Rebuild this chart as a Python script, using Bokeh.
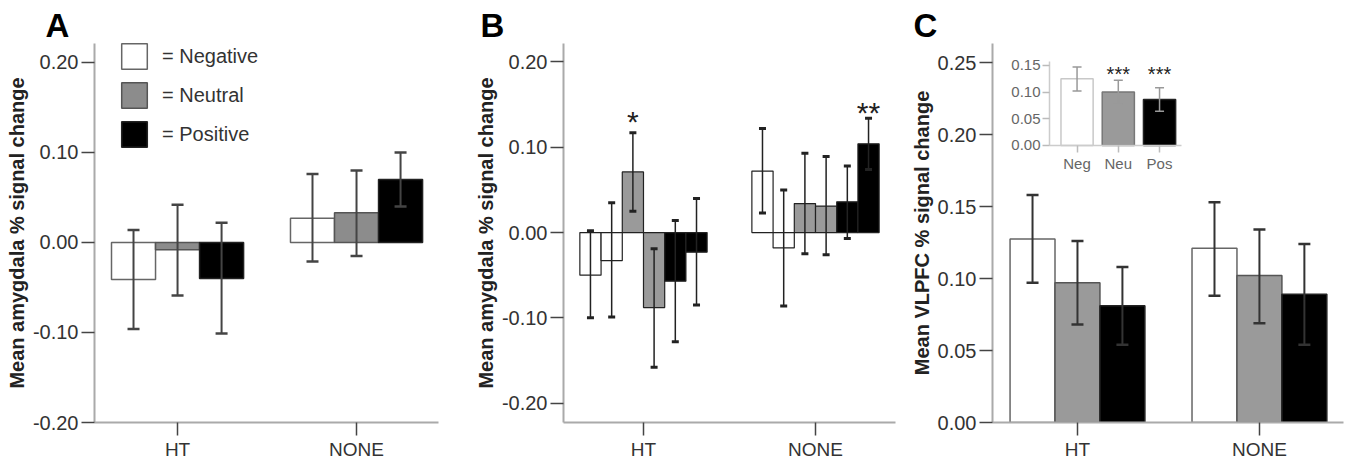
from bokeh.plotting import figure
from bokeh.layouts import row
from bokeh.models import (Range1d, FixedTicker, NumeralTickFormatter, Whisker, TeeHead,
                          ColumnDataSource, Legend, LegendItem, LinearAxis)
from bokeh.embed import file_html
from bokeh.resources import INLINE
from bokeh.core.properties import value

FONT = "Liberation Sans"

# ---------------- data ----------------
groups = ["HT", "NONE"]
emotions = ["Negative", "Neutral", "Positive"]
legend_labels = ["= Negative", "= Neutral", "= Positive"]

# Panel A : mean amygdala % signal change
a_neg_mean = [-0.041, 0.027]
a_neg_hi = [0.014, 0.076]
a_neg_lo = [-0.096, -0.021]
a_neu_mean = [-0.008, 0.033]
a_neu_hi = [0.042, 0.080]
a_neu_lo = [-0.059, -0.015]
a_pos_mean = [-0.040, 0.070]
a_pos_hi = [0.022, 0.100]
a_pos_lo = [-0.101, 0.040]
a_yticks = [-0.20, -0.10, 0.00, 0.10, 0.20]

# Panel B : six bars per group (two per emotion)
b_series = ["Negative", "Negative", "Neutral", "Neutral", "Positive", "Positive"]
b_ht_mean = [-0.050, -0.033, 0.071, -0.088, -0.057, -0.023]
b_ht_hi = [0.002, 0.035, 0.117, -0.019, 0.014, 0.040]
b_ht_lo = [-0.100, -0.099, 0.025, -0.158, -0.128, -0.085]
b_ht_stars = ["", "", "*", "", "", ""]
b_none_mean = [0.072, -0.018, 0.034, 0.031, 0.036, 0.104]
b_none_hi = [0.122, 0.050, 0.093, 0.089, 0.078, 0.134]
b_none_lo = [0.023, -0.086, -0.025, -0.026, -0.007, 0.074]
b_none_stars = ["", "", "", "", "", "**"]
b_yticks = [-0.20, -0.10, 0.00, 0.10, 0.20]

# Panel C : mean VLPFC % signal change
c_neg_mean = [0.1275, 0.121]
c_neg_hi = [0.158, 0.153]
c_neg_lo = [0.097, 0.088]
c_neu_mean = [0.097, 0.102]
c_neu_hi = [0.126, 0.134]
c_neu_lo = [0.068, 0.069]
c_pos_mean = [0.081, 0.089]
c_pos_hi = [0.108, 0.124]
c_pos_lo = [0.054, 0.054]
c_yticks = [0.00, 0.05, 0.10, 0.15, 0.20, 0.25]

# Panel C inset
inset_cats = ["Neg", "Neu", "Pos"]
inset_mean = [0.125, 0.100, 0.086]
inset_hi = [0.147, 0.122, 0.108]
inset_lo = [0.102, 0.078, 0.064]
inset_stars = ["", "***", "***"]
inset_star_y = 0.1404
inset_yticks = [0.00, 0.05, 0.10, 0.15]

# ---------------- styles ----------------
FILL = {"Negative": "white", "Neutral": "#8c8c8c", "Positive": "black"}
FILL_BC = {"Negative": "white", "Neutral": "#9a9a9a", "Positive": "black"}
LINE = {"Negative": "#666666", "Neutral": "#555555", "Positive": "#222222"}


def base_fig(width, left, right, xr, yr, yticks, ylabel, letter, letter_dx):
    p = figure(width=width, height=464, x_range=Range1d(*xr), y_range=Range1d(*yr),
               output_backend="svg", toolbar_location=None,
               min_border_left=left, min_border_right=right,
               min_border_top=43, min_border_bottom=42)
    p.grid.visible = False
    p.outline_line_color = None
    p.background_fill_color = "white"
    p.border_fill_color = "white"
    p.title.text = letter
    p.title.align = "left"
    p.title.offset = letter_dx
    p.title.standoff = 0
    p.title.text_font = FONT
    p.title.text_font_size = "33px"
    p.title.text_font_style = "bold"
    p.title.text_color = "black"
    for ax in p.axis:
        ax.axis_line_color = "#aaaaaa"
        ax.axis_line_width = 2
        ax.major_tick_line_color = "#444444"
        ax.major_tick_line_width = 1.5
        ax.major_tick_in = 0
        ax.major_tick_out = 13
        ax.minor_tick_line_color = None
        ax.major_label_text_font = FONT
        ax.major_label_text_color = "#333333"
        ax.axis_label_text_font = FONT
        ax.axis_label_text_font_style = "bold"
        ax.axis_label_text_font_size = "20px"
        ax.axis_label_text_color = "#222222"
    p.yaxis.major_label_standoff = 3
    p.yaxis.axis_label_standoff = 2
    p.yaxis.major_label_text_font_size = "20px"
    p.yaxis.ticker = FixedTicker(ticks=yticks)
    p.yaxis.formatter = NumeralTickFormatter(format="0.00")
    p.yaxis.axis_label = ylabel
    p.xaxis.major_label_standoff = 3
    p.xaxis.major_label_text_font_size = "19px"
    p.xaxis.ticker = FixedTicker(ticks=list(range(len(groups))))
    p.xaxis.major_label_overrides = {i: g for i, g in enumerate(groups)}
    return p


def whisker(p, src, color, width, head, head_w, **kw):
    w = Whisker(base="x", upper="hi", lower="lo", source=src, dimension="height",
                line_color=color, line_width=width, level="annotation",
                upper_head=TeeHead(size=head, line_color=color, line_width=head_w),
                lower_head=TeeHead(size=head, line_color=color, line_width=head_w), **kw)
    p.add_layout(w)


# ---------------- Panel A ----------------
pA = base_fig(450, 94, 12, (-0.464, 1.458), (-0.200, 0.2211), a_yticks,
              "Mean amygdala % signal change", "A", -49)
wA = 0.246
a_data = [(a_neg_mean, a_neg_hi, a_neg_lo), (a_neu_mean, a_neu_hi, a_neu_lo),
          (a_pos_mean, a_pos_hi, a_pos_lo)]
a_renderers = []
for k, (emo, (m, hi, lo)) in enumerate(zip(emotions, a_data)):
    xs = [i + (k - 1) * wA for i in range(len(groups))]
    src = ColumnDataSource(dict(x=xs, top=m, hi=hi, lo=lo))
    r = pA.vbar(x="x", top="top", bottom=0, width=wA, source=src,
                fill_color=FILL[emo], line_color=LINE[emo], line_width=1.5)
    a_renderers.append(r)
    whisker(pA, src, "#444444", 2, 12, 2.5)

legend = Legend(items=[LegendItem(label=lab, renderers=[r])
                       for lab, r in zip(legend_labels, a_renderers)],
                location=(24, 272), glyph_width=32, glyph_height=32, spacing=7,
                label_standoff=12, padding=0, margin=0, border_line_color=None,
                background_fill_alpha=0, label_text_font=FONT,
                label_text_font_size="20px", label_text_color="#333333", label_height=32)
pA.add_layout(legend)

# ---------------- Panel B ----------------
pB = base_fig(450, 113, 5, (-0.465, 1.465), (-0.2227, 0.2216), b_yticks,
              "Mean amygdala % signal change", "B", -83)
wB = 0.1233
for gi, (m, hi, lo, st) in enumerate([(b_ht_mean, b_ht_hi, b_ht_lo, b_ht_stars),
                                      (b_none_mean, b_none_hi, b_none_lo, b_none_stars)]):
    xs = [gi + (j - 2.5) * wB for j in range(len(b_series))]
    src = ColumnDataSource(dict(x=xs, top=m, hi=hi, lo=lo,
                                fill=[FILL_BC[s] for s in b_series]))
    pB.vbar(x="x", top="top", bottom=0, width=wB, source=src,
            fill_color="fill", line_color="#222222", line_width=1.2)
    whisker(pB, src, "#222222", 1.5, 7, 3)
    sx = [x for x, s in zip(xs, st) if s]
    sy = [h for h, s in zip(hi, st) if s]
    stxt = [s for s in st if s]
    pB.text(x=sx, y=sy, text=stxt, text_font=value(FONT), text_font_size="30px",
            text_align="center", text_baseline="middle", text_color="#222222",
            y_offset=-11 if gi == 0 else -6)

# ---------------- Panel C ----------------
pC = base_fig(450, 92, 7, (-0.467, 1.462), (0.0, 0.2632), c_yticks,
              "Mean VLPFC % signal change", "C", -79)
wC = 0.247
c_data = [(c_neg_mean, c_neg_hi, c_neg_lo), (c_neu_mean, c_neu_hi, c_neu_lo),
          (c_pos_mean, c_pos_hi, c_pos_lo)]
for k, (emo, (m, hi, lo)) in enumerate(zip(emotions, c_data)):
    xs = [i + (k - 1) * wC for i in range(len(groups))]
    src = ColumnDataSource(dict(x=xs, top=m, hi=hi, lo=lo))
    pC.vbar(x="x", top="top", bottom=0, width=wC, source=src,
            fill_color=FILL_BC[emo], line_color=LINE[emo], line_width=1.5)
    whisker(pC, src, "#333333", 2, 12, 2.5)

# inset (own ranges mapped inside panel C's frame)
pC.extra_x_ranges = {"inset_x": Range1d(-2.05, 6.46)}
pC.extra_y_ranges = {"inset_y": Range1d(-0.5187, 0.1910)}
isrc = ColumnDataSource(dict(x=list(range(len(inset_cats))), top=inset_mean,
                             hi=inset_hi, lo=inset_lo,
                             fill=[FILL_BC[e] for e in emotions],
                             line=["#c8c8c8", "#777777", "#222222"]))
pC.vbar(x="x", top="top", bottom=0, width=0.78, source=isrc,
        x_range_name="inset_x", y_range_name="inset_y",
        fill_color="fill", line_color="line", line_width=1.5)
whisker(pC, isrc, "#999999", 1.5, 9, 1.5, x_range_name="inset_x", y_range_name="inset_y")
s_x = [i for i, s in enumerate(inset_stars) if s]
s_t = [s for s in inset_stars if s]
pC.text(x=s_x, y=[inset_star_y] * len(s_x), text=s_t, x_range_name="inset_x",
        y_range_name="inset_y", text_font=value(FONT), text_font_size="20px",
        text_align="center", text_baseline="middle", text_color="#222222", y_offset=3)

yi = LinearAxis(x_range_name="inset_x", y_range_name="inset_y", fixed_location=-0.667,
                bounds=(0, 0.157), ticker=FixedTicker(ticks=inset_yticks),
                formatter=NumeralTickFormatter(format="0.00"))
xi = LinearAxis(x_range_name="inset_x", y_range_name="inset_y", fixed_location=0,
                bounds=(-0.667, 2.533), ticker=FixedTicker(ticks=list(range(len(inset_cats)))),
                major_label_overrides={i: c for i, c in enumerate(inset_cats)})
for ax in (yi, xi):
    ax.axis_line_color = "#cccccc"
    ax.axis_line_width = 1.5
    ax.major_tick_line_color = "#bbbbbb"
    ax.major_tick_line_width = 1.5
    ax.major_tick_in = 0
    ax.major_tick_out = 7
    ax.minor_tick_line_color = None
    ax.major_label_text_font = FONT
    ax.major_label_text_font_size = "15px"
    ax.major_label_text_color = "#666666"
yi.major_label_standoff = 2
xi.major_label_standoff = 3
pC.add_layout(yi, "left")
pC.add_layout(xi, "below")

layout = row(pA, pB, pC)
open("out.html", "w").write(file_html(layout, INLINE))
